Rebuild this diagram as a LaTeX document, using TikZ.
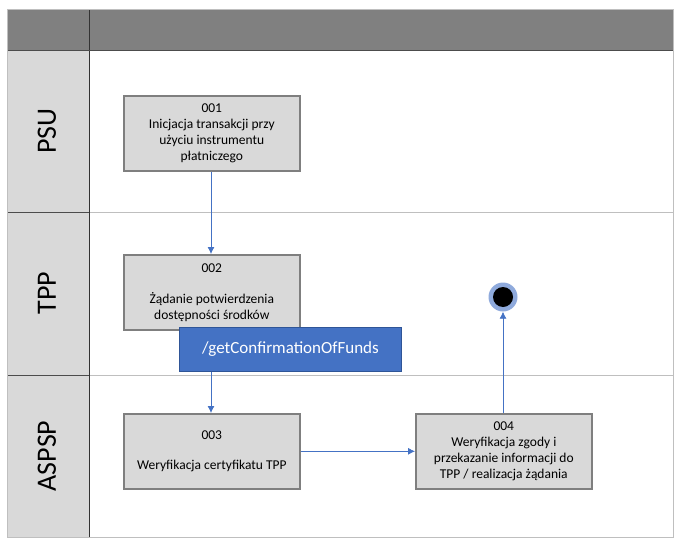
\documentclass[tikz,border=0pt]{standalone}
\usepackage{fontspec}
\setmainfont{Carlito}
\usetikzlibrary{arrows.meta}
\definecolor{hdr}{HTML}{808080}
\definecolor{lanefill}{HTML}{D9D9D9}
\definecolor{boxfill}{HTML}{D9D9D9}
\definecolor{boxline}{HTML}{7F7F7F}
\definecolor{bluefill}{HTML}{4472C4}
\definecolor{blueline}{HTML}{2F5597}
\definecolor{arrowc}{HTML}{4472C4}
\definecolor{ringc}{HTML}{8FAADC}
\definecolor{laneline}{HTML}{BFBFBF}
\begin{document}
\begin{tikzpicture}[x=1pt,y=-1pt,
  stepbox/.style={draw=boxline,line width=1.6pt,fill=boxfill,minimum width=176pt,minimum height=75pt,anchor=north west,inner sep=0pt,align=center,font=\fontsize{13.5}{16}\selectfont},
  apibox/.style={draw=blueline,line width=1pt,fill=bluefill,text=white,minimum width=222pt,minimum height=44pt,anchor=north west,inner sep=0pt,font=\fontsize{17}{20}\selectfont},
  lanelbl/.style={rotate=90,font=\fontsize{28}{32}\selectfont},
  flow/.style={draw=arrowc,line width=0.8pt,-{Latex[length=7pt,width=7pt]}}
]
\useasboundingbox (0,0) rectangle (684,548);
% lanes
\fill[lanefill] (7,50) rectangle (89,537);
\fill[hdr] (7,10) rectangle (673,50);
\draw[laneline,line width=0.8pt] (89,212) -- (673,212);
\draw[laneline,line width=0.8pt] (89,375) -- (673,375);
\draw[black!70,line width=0.6pt] (7,212) -- (89,212);
\draw[black!70,line width=0.6pt] (7,375) -- (89,375);
\draw[black!80,line width=0.6pt] (89,10) -- (89,537);
\draw[black!70,line width=0.8pt] (7,50) -- (673,50);
\draw[laneline,line width=1pt] (7,10) rectangle (673,537);
\node[lanelbl] (psu) at (47,131) {PSU};
\node[lanelbl] (tpp) at (47,293) {TPP};
\node[lanelbl] (aspsp) at (47,456) {ASPSP};
% steps
\node[stepbox] (s1) at (123,95) {001\\Inicjacja transakcji przy\\użyciu instrumentu\\płatniczego};
\node[stepbox] (s2) at (123,254) {002\\[15pt]Żądanie potwierdzenia\\dostępności środków};
\node[stepbox] (s3) at (123,413) {003\\[14pt]Weryfikacja certyfikatu TPP};
\node[stepbox] (s4) at (415,413) {004\\Weryfikacja zgody i\\przekazanie informacji do\\TPP / realizacja żądania};
\node[apibox] (api) at (179,327) {/getConfirmationOfFunds};
% end
\node[circle,fill=ringc,minimum size=29pt,inner sep=0pt] (endc) at (503,297) {};
\node[circle,fill=black,minimum size=20pt,inner sep=0pt] at (endc) {};
% flows
\draw[flow] (s1.south -| 211,0) -- (s2.north -| 211,0);
\draw[flow] (api.south -| 211,0) -- (s3.north -| 211,0);
\draw[flow] (s3.east) -- (s4.west);
\draw[flow] (s4.north -| endc) -- (endc.south);
\end{tikzpicture}
\end{document}
